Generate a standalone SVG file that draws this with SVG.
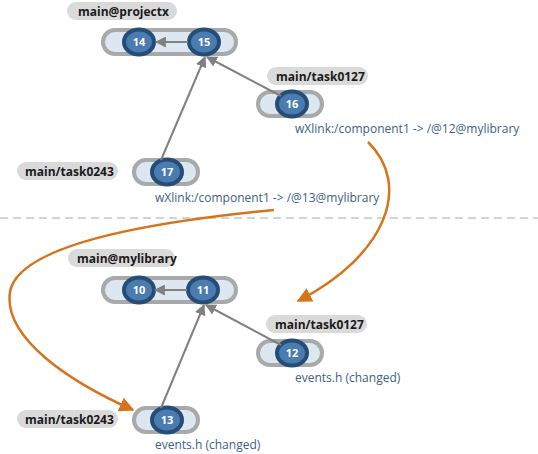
<svg xmlns="http://www.w3.org/2000/svg" width="538" height="454" viewBox="0 0 538 454">
<style>
.lbl{fill:#dadada}
.lbltx{font-family:"Open Sans","Noto Sans",sans-serif;font-weight:bold;font-size:12px;fill:#1a1a1a}
.br{fill:#dce7f1;stroke:#a9a9a9;stroke-width:4}
.nd{fill:#4a7cb0;stroke:#264d75;stroke-width:4}
.ndtx{font-family:"Open Sans","Noto Sans",sans-serif;font-weight:bold;font-size:11px;fill:#fff;text-anchor:middle}
.note{font-family:"Open Sans","Noto Sans",sans-serif;font-size:12px;fill:#3b5f85}
.gl{stroke:#808080;stroke-width:2;fill:none;marker-end:url(#ga)}
.ol{stroke:#d6731b;stroke-width:2.5;fill:none;marker-end:url(#oa)}
</style>
<defs>
<marker id="ga" viewBox="0 0 10 10" refX="9" refY="5" markerWidth="5.5" markerHeight="5.5" orient="auto" markerUnits="strokeWidth">
<path d="M0,0 L10,5 L0,10 z" fill="#808080"/>
</marker>
<marker id="oa" viewBox="0 0 10 10" refX="9" refY="5" markerWidth="6" markerHeight="6" orient="auto" markerUnits="strokeWidth">
<path d="M0,0 L10,5 L0,10 z" fill="#d6731b"/>
</marker>
</defs>
<line x1="0" y1="218" x2="538" y2="218" stroke="#a8a8a8" stroke-width="1.2" stroke-dasharray="8,5"/>

<g id="label-projectx"><rect class="lbl" x="67" y="2" width="110" height="18" rx="9"/><text class="lbltx" x="78" y="15.5">main@projectx</text></g>
<g id="branch-projectx"><rect class="br" x="103" y="30" width="133" height="24" rx="12"/></g>
<g id="n14"><ellipse class="nd" cx="139" cy="42" rx="15" ry="12.5"/><text class="ndtx" x="139" y="46">14</text></g>
<g id="n15"><ellipse class="nd" cx="204" cy="42" rx="15" ry="12.5"/><text class="ndtx" x="204" y="46">15</text></g>

<g id="label-task0127-top"><rect class="lbl" x="267" y="67" width="101" height="18" rx="9"/><text class="lbltx" x="276" y="80.5">main/task0127</text></g>
<g id="branch-16"><rect class="br" x="258" y="92" width="64" height="24" rx="12"/></g>
<g id="n16"><ellipse class="nd" cx="292" cy="104" rx="15" ry="12.5"/><text class="ndtx" x="292" y="108">16</text></g>
<text class="note" x="295" y="133">wXlink:/component1 -&gt; /@12@mylibrary</text>

<g id="label-task0243-top"><rect class="lbl" x="17" y="162" width="101" height="18" rx="9"/><text class="lbltx" x="25" y="175.5">main/task0243</text></g>
<g id="branch-17"><rect class="br" x="134" y="160" width="64" height="24" rx="12"/></g>
<g id="n17"><ellipse class="nd" cx="167" cy="172" rx="15" ry="12.5"/><text class="ndtx" x="167" y="176">17</text></g>
<text class="note" x="155" y="202">wXlink:/component1 -&gt; /@13@mylibrary</text>

<g id="label-mylibrary"><rect class="lbl" x="68" y="249" width="107" height="18" rx="9"/><text class="lbltx" x="77" y="262.5">main@mylibrary</text></g>
<g id="branch-mylibrary"><rect class="br" x="103" y="278" width="133" height="24" rx="12"/></g>
<g id="n10"><ellipse class="nd" cx="139" cy="290" rx="15" ry="12.5"/><text class="ndtx" x="139" y="294">10</text></g>
<g id="n11"><ellipse class="nd" cx="203" cy="290" rx="15" ry="12.5"/><text class="ndtx" x="203" y="294">11</text></g>

<g id="label-task0127-bottom"><rect class="lbl" x="266" y="315" width="101" height="18" rx="9"/><text class="lbltx" x="275" y="328.5">main/task0127</text></g>
<g id="branch-12"><rect class="br" x="258" y="341" width="64" height="24" rx="12"/></g>
<g id="n12"><ellipse class="nd" cx="292" cy="353" rx="15" ry="12.5"/><text class="ndtx" x="292" y="357">12</text></g>
<text class="note" x="295" y="382">events.h (changed)</text>

<g id="label-task0243-bottom"><rect class="lbl" x="17" y="410" width="101" height="18" rx="9"/><text class="lbltx" x="25" y="423.5">main/task0243</text></g>
<g id="branch-13"><rect class="br" x="134" y="408" width="64" height="24" rx="12"/></g>
<g id="n13"><ellipse class="nd" cx="167" cy="420" rx="15" ry="12.5"/><text class="ndtx" x="167" y="424">13</text></g>
<text class="note" x="155" y="449">events.h (changed)</text>

<g id="connectors">
<line class="gl" x1="188" y1="42" x2="156" y2="42"/>
<line class="gl" x1="161" y1="160" x2="205" y2="57"/>
<line class="gl" x1="281" y1="96" x2="207" y2="57"/>
<line class="gl" x1="187" y1="290" x2="155" y2="290"/>
<line class="gl" x1="161" y1="408" x2="204" y2="305"/>
<line class="gl" x1="281" y1="345" x2="206" y2="305"/>
<path class="ol" d="M368,142 C412,185 387,255 298,301"/>
<path class="ol" d="M274,210 C150,222 18,245 10,292 C3,338 70,382 133,410"/>
</g>
</svg>
